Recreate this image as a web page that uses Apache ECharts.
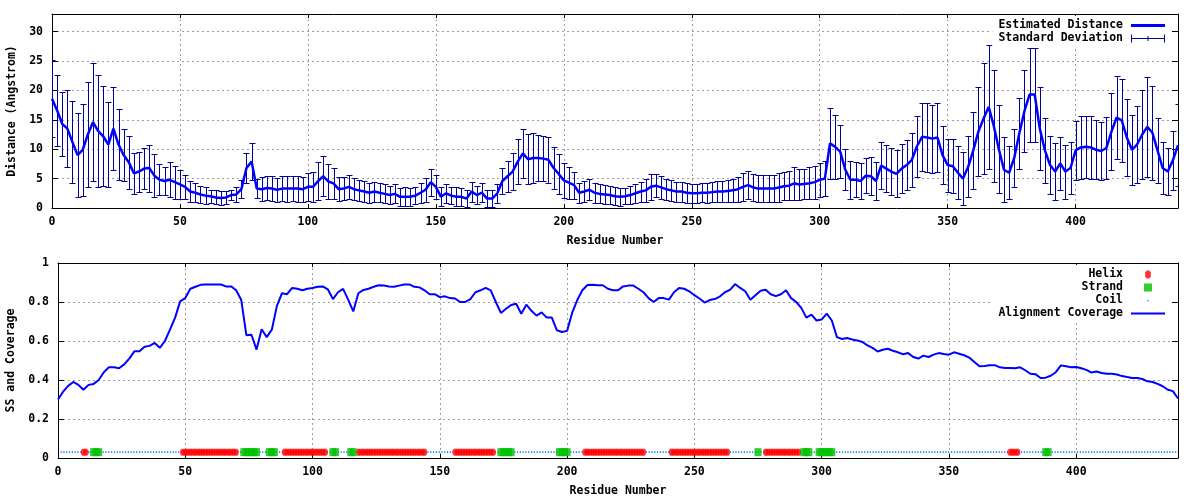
<!DOCTYPE html>
<html><head><meta charset="utf-8">
<script src="https://cdn.jsdelivr.net/npm/echarts@6/dist/echarts.min.js"></script>
<style>html,body{margin:0;padding:0;background:#fff}#c{width:1200px;height:500px}</style>
</head><body><div id="c"></div>
<script>
const residueStep = 2;
const distMean = [
 18.6,16.6,14.3,13.5,11.2,9.0,9.9,12.5,14.6,13.1,
 12.2,10.8,13.5,10.8,9.0,7.8,5.9,6.2,6.7,6.8,
 5.5,4.8,4.6,4.8,4.4,4.0,3.6,2.8,2.6,2.3,
 2.1,2.0,1.8,1.7,1.8,2.2,2.3,3.2,6.8,7.9,
 3.3,3.2,3.4,3.3,3.1,3.3,3.3,3.3,3.3,3.2,
 3.6,3.6,4.6,5.4,4.5,4.2,3.2,3.3,3.6,3.2,
 3.0,2.8,2.6,2.8,2.6,2.4,2.2,2.4,1.9,1.9,
 1.9,2.1,2.6,3.1,4.4,3.6,1.9,2.5,2.1,1.9,
 1.9,1.6,2.8,2.2,2.6,1.6,1.6,2.5,4.6,5.4,
 6.2,7.9,9.3,8.3,8.5,8.5,8.4,8.2,6.8,5.8,
 4.7,4.3,3.9,2.6,2.8,3.1,2.6,2.4,2.3,2.2,
 2.0,1.9,2.0,2.2,2.5,2.8,3.0,3.6,3.8,3.5,
 3.2,3.0,2.8,2.8,2.6,2.5,2.5,2.6,2.6,2.7,
 2.8,2.8,2.9,3.0,3.2,3.6,3.9,3.5,3.3,3.3,
 3.3,3.3,3.5,3.7,3.8,4.2,4.0,4.1,4.2,4.4,
 4.8,5.0,11.0,10.4,9.6,6.5,4.8,4.8,4.6,5.5,
 5.4,4.6,7.2,6.7,6.2,5.8,6.7,7.3,8.2,10.5,
 12.1,12.0,11.8,12.0,9.0,7.3,7.1,6.0,5.0,7.0,
 9.8,13.0,15.2,17.2,14.0,10.0,6.5,6.0,8.5,12.7,
 16.5,19.3,19.3,13.5,9.8,7.3,6.2,7.6,6.2,6.8,
 9.8,10.3,10.4,10.3,9.9,9.7,10.2,13.0,15.4,14.9,
 12.0,9.9,10.8,12.5,13.8,12.8,9.8,6.8,6.2,8.1,
 10.7
];
const distSD = [
 6.5,6.0,5.5,6.5,7.0,7.2,7.8,9.0,10.0,9.5,
 8.5,7.2,7.1,6.0,4.4,4.5,3.5,3.4,3.5,4.0,
 3.7,2.6,2.4,3.0,2.8,2.5,2.0,1.8,1.6,1.5,
 1.4,1.1,1.2,1.2,1.1,0.9,1.2,1.5,2.6,3.2,
 1.6,2.0,2.1,2.1,2.0,2.1,2.2,2.1,2.2,2.1,
 2.4,2.6,3.3,3.4,3.0,2.6,2.0,2.0,2.0,1.9,
 1.8,1.8,1.7,1.7,1.6,1.6,1.5,1.6,1.5,1.6,
 1.5,1.5,1.7,2.0,2.3,2.0,1.6,1.6,1.5,1.6,
 1.5,1.4,1.7,1.6,1.6,1.5,1.4,1.6,2.2,2.6,
 3.2,3.8,4.2,4.3,4.2,3.9,3.8,3.9,3.6,3.4,
 3.0,2.7,2.3,1.7,1.8,1.8,1.7,1.6,1.6,1.5,
 1.5,1.5,1.4,1.5,1.6,1.7,1.9,2.2,2.0,2.0,
 1.8,1.8,1.7,1.7,1.7,1.6,1.6,1.6,1.7,1.7,
 1.8,1.8,1.9,2.0,2.1,2.4,2.4,2.3,2.3,2.3,
 2.3,2.3,2.4,2.4,2.5,2.8,2.6,2.6,2.7,2.8,
 2.9,3.0,6.0,5.5,4.5,3.5,3.2,3.0,3.0,3.0,
 3.2,3.2,4.0,4.0,4.0,4.0,4.2,4.3,4.6,5.2,
 5.8,5.8,5.8,5.8,5.0,4.5,4.6,4.5,4.5,5.2,
 6.5,7.5,9.5,10.5,9.5,7.5,5.5,4.5,5.0,6.0,
 7.0,8.0,8.0,7.0,5.5,5.0,4.8,4.5,4.6,4.5,
 5.0,5.3,5.3,5.3,5.0,5.0,5.3,6.5,7.0,7.0,
 6.5,6.0,6.5,7.5,8.5,8.0,5.5,4.5,4.0,5.0,
 7.0
];
const coverage = [
 0.30,0.34,0.37,0.39,0.375,0.35,0.375,0.38,0.40,0.44,
 0.465,0.465,0.46,0.48,0.51,0.547,0.547,0.57,0.575,0.59,
 0.565,0.60,0.658,0.72,0.803,0.82,0.868,0.878,0.888,0.89,
 0.89,0.89,0.89,0.88,0.88,0.86,0.81,0.63,0.632,0.556,
 0.66,0.62,0.658,0.78,0.845,0.84,0.872,0.868,0.86,0.868,
 0.872,0.878,0.88,0.865,0.815,0.85,0.867,0.812,0.752,0.845,
 0.862,0.868,0.878,0.886,0.885,0.88,0.878,0.884,0.89,0.89,
 0.878,0.875,0.86,0.84,0.84,0.825,0.829,0.82,0.818,0.80,
 0.80,0.815,0.85,0.86,0.872,0.86,0.80,0.744,0.765,0.785,
 0.791,0.74,0.786,0.755,0.73,0.747,0.72,0.72,0.655,0.646,
 0.652,0.745,0.81,0.86,0.887,0.888,0.886,0.886,0.868,0.86,
 0.86,0.88,0.884,0.884,0.868,0.85,0.82,0.80,0.82,0.82,
 0.812,0.85,0.872,0.868,0.855,0.835,0.818,0.797,0.81,0.815,
 0.828,0.85,0.862,0.892,0.872,0.855,0.812,0.835,0.858,0.863,
 0.84,0.83,0.84,0.86,0.82,0.80,0.77,0.72,0.735,0.705,
 0.71,0.74,0.705,0.62,0.61,0.615,0.608,0.603,0.595,0.578,
 0.565,0.546,0.555,0.56,0.55,0.542,0.532,0.538,0.518,0.51,
 0.525,0.518,0.53,0.538,0.533,0.53,0.542,0.535,0.527,0.515,
 0.492,0.47,0.472,0.476,0.476,0.465,0.462,0.462,0.46,0.465,
 0.45,0.432,0.43,0.41,0.412,0.422,0.44,0.475,0.47,0.465,
 0.467,0.46,0.452,0.438,0.444,0.436,0.432,0.432,0.428,0.42,
 0.415,0.41,0.41,0.405,0.393,0.39,0.38,0.368,0.35,0.343,
 0.305
];
// secondary structure ranges [first residue, last residue]
const helixSegments  = [[10,11],[49,70],[89,105],[118,144],[156,171],[207,230],[241,263],[278,291],[374,377]];
const strandSegments = [[14,16],[73,78],[83,85],[108,109],[115,116],[174,178],[197,200],[275,275],[293,295],[299,304],[388,389]];
const coilSegments   = [[1,440]];
const ssLevel = 0.03;
const residueMax = 440;
const xTickStep = 50;

// ---- build ----
const residues = distMean.map((_, i) => i * residueStep);
const expand = segs => { const out = []; segs.forEach(([a,b]) => { for (let r = a; r <= b; r++) out.push([r, ssLevel]); }); return out; };
const coilLine = []; coilSegments.forEach(([a,b]) => { coilLine.push([a, ssLevel], [b, ssLevel], null); });

const FONT = 'DejaVu Sans Mono';
const txt = { fontFamily: FONT, fontWeight: 'bold', fontSize: 11.5, color: '#000' };
const BLUE = '#0000ff', ERR = '#00009a', RED = '#ff0000', GREEN = '#00c000', COIL = '#1a7cff';
const gridLine = { show: true, showMinLine: false, showMaxLine: false, lineStyle: { color: '#a0a0a0', type: [2, 3], width: 1 } };

function mainX(gi, name) {
  return { gridIndex: gi, type: 'value', min: 0, max: residueMax, interval: xTickStep,
    name: name, nameLocation: 'middle', nameGap: 27, nameTextStyle: txt,
    axisLine: { show: true, onZero: false, lineStyle: { color: '#000', width: 1 } },
    axisTick: { show: true, inside: true, length: 4, lineStyle: { color: '#000' } },
    axisLabel: Object.assign({ margin: 8, showMaxLabel: false }, txt),
    splitLine: gridLine };
}
function mirrorX(gi) {
  return { gridIndex: gi, type: 'value', min: 0, max: residueMax, interval: xTickStep, position: 'top',
    axisLine: { show: true, onZero: false, lineStyle: { color: '#000', width: 1 } },
    axisTick: { show: true, inside: true, length: 4, lineStyle: { color: '#000' } },
    axisLabel: { show: false }, splitLine: { show: false } };
}
function mainY(gi, name, min, max, interval, gap, showMax) {
  return { gridIndex: gi, type: 'value', min, max, interval,
    name: name, nameLocation: 'middle', nameGap: gap, nameRotate: 90, nameTextStyle: txt,
    axisLine: { show: true, onZero: false, lineStyle: { color: '#000', width: 1 } },
    axisTick: { show: true, inside: true, length: 6, lineStyle: { color: '#000' } },
    axisLabel: Object.assign({ margin: 9, showMaxLabel: showMax }, txt),
    splitLine: gridLine };
}
function mirrorY(gi, min, max, interval) {
  return { gridIndex: gi, type: 'value', min, max, interval, position: 'right',
    axisLine: { show: true, onZero: false, lineStyle: { color: '#000', width: 1 } },
    axisTick: { show: true, inside: true, length: 6, lineStyle: { color: '#000' } },
    axisLabel: { show: false }, splitLine: { show: false } };
}

function renderErr(params, api) {
  const x = api.value(0), lo = api.value(1), hi = api.value(2);
  const a = api.coord([x, lo]), b = api.coord([x, hi]);
  const px = Math.round(a[0]) + 0.5, y1 = Math.round(a[1]) + 0.5, y2 = Math.round(b[1]) + 0.5;
  const w = 3;
  const st = { stroke: ERR, lineWidth: 1, fill: null };
  return { type: 'group', children: [
    { type: 'line', shape: { x1: px, y1: y1, x2: px, y2: y2 }, style: st },
    { type: 'line', shape: { x1: px - w, y1: y1, x2: px + w, y2: y1 }, style: st },
    { type: 'line', shape: { x1: px - w, y1: y2, x2: px + w, y2: y2 }, style: st }
  ] };
}

const legendBase = {
  orient: 'vertical', right: 29, padding: [3, 6, 3, 6], backgroundColor: '#fff',
  itemWidth: 34, itemHeight: 8, itemGap: 0, align: 'right', selectedMode: false,
  symbolKeepAspect: true,
  formatter: n => n.padStart(18, ' '),
  textStyle: Object.assign({ lineHeight: 13, padding: [0, 3, 0, 0] }, txt)
};
const errIcon = 'path://M0,0h1v8h-1zM0,3.5h34v1h-34zM16.5,1.5h1v5h-1zM33,0h1v8h-1z';
const helixPath = 'path://M1,0h3v1h1v5h-1v1h-3v-1h-1v-5h1z';

const option = {
  animation: false,
  backgroundColor: '#fff',
  grid: [
    { left: 52, right: 22, top: 14, height: 194, containLabel: false, outerBoundsMode: 'none' },
    { left: 58, right: 22, top: 263, height: 195, containLabel: false, outerBoundsMode: 'none' }
  ],
  xAxis: [ mainX(0, 'Residue Number'), mainX(1, 'Residue Number'), mirrorX(0), mirrorX(1) ],
  yAxis: [ mainY(0, 'Distance (Angstrom)', 0, 33, 5, 33, false), mainY(1, 'SS and Coverage', 0, 1, 0.2, 39, true),
           mirrorY(0, 0, 33, 5), mirrorY(1, 0, 1, 0.2) ],
  legend: [
    Object.assign({}, legendBase, { top: 16, data: [
      { name: 'Estimated Distance', icon: 'path://M0,0h34v3h-34z', itemStyle: { color: BLUE, borderWidth: 0 } },
      { name: 'Standard Deviation', icon: errIcon, itemStyle: { color: ERR, borderWidth: 0 } }
    ] }),
    Object.assign({}, legendBase, { top: 265, data: [
      { name: 'Helix', icon: helixPath, itemStyle: { color: RED, borderWidth: 0 } },
      { name: 'Strand', icon: 'path://M0,0h7v7h-7z', itemStyle: { color: GREEN, borderWidth: 0 } },
      { name: 'Coil', icon: 'path://M0,0M8,8M3.4,3.4h1.4v1.4h-1.4z', itemStyle: { color: COIL, borderWidth: 0 } },
      { name: 'Alignment Coverage', icon: 'path://M0,0h34v2h-34z', itemStyle: { color: BLUE, borderWidth: 0 } }
    ] })
  ],
  series: [
    { name: 'Standard Deviation', type: 'custom', xAxisIndex: 0, yAxisIndex: 0, clip: true, z: 2,
      itemStyle: { color: ERR }, encode: { x: 0, y: [1, 2] },
      data: residues.map((r, i) => [r, distMean[i] - distSD[i], distMean[i] + distSD[i]]),
      renderItem: renderErr },
    { name: 'Estimated Distance', type: 'line', xAxisIndex: 0, yAxisIndex: 0, z: 3, symbol: 'none',
      color: BLUE, lineStyle: { color: BLUE, width: 2.5 },
      data: residues.map((r, i) => [r, distMean[i]]) },
    { name: 'Coil', type: 'line', xAxisIndex: 1, yAxisIndex: 1, z: 2, symbol: 'none', color: COIL,
      lineStyle: { color: COIL, width: 1.6, type: [1.2, 1.6] }, data: coilLine },
    { name: 'Helix', type: 'scatter', xAxisIndex: 1, yAxisIndex: 1, z: 3, symbol: helixPath, symbolSize: [5, 7],
      itemStyle: { color: RED }, data: expand(helixSegments) },
    { name: 'Strand', type: 'scatter', xAxisIndex: 1, yAxisIndex: 1, z: 4, symbol: 'rect', symbolSize: [7, 8],
      itemStyle: { color: GREEN }, data: expand(strandSegments) },
    { name: 'Alignment Coverage', type: 'line', xAxisIndex: 1, yAxisIndex: 1, z: 5, symbol: 'none',
      color: BLUE, lineStyle: { color: BLUE, width: 2 },
      data: residues.map((r, i) => [r, coverage[i]]) }
  ]
};
const chart = echarts.init(document.getElementById('c'), null, { renderer: 'canvas' });
chart.setOption(option);
</script></body></html>
